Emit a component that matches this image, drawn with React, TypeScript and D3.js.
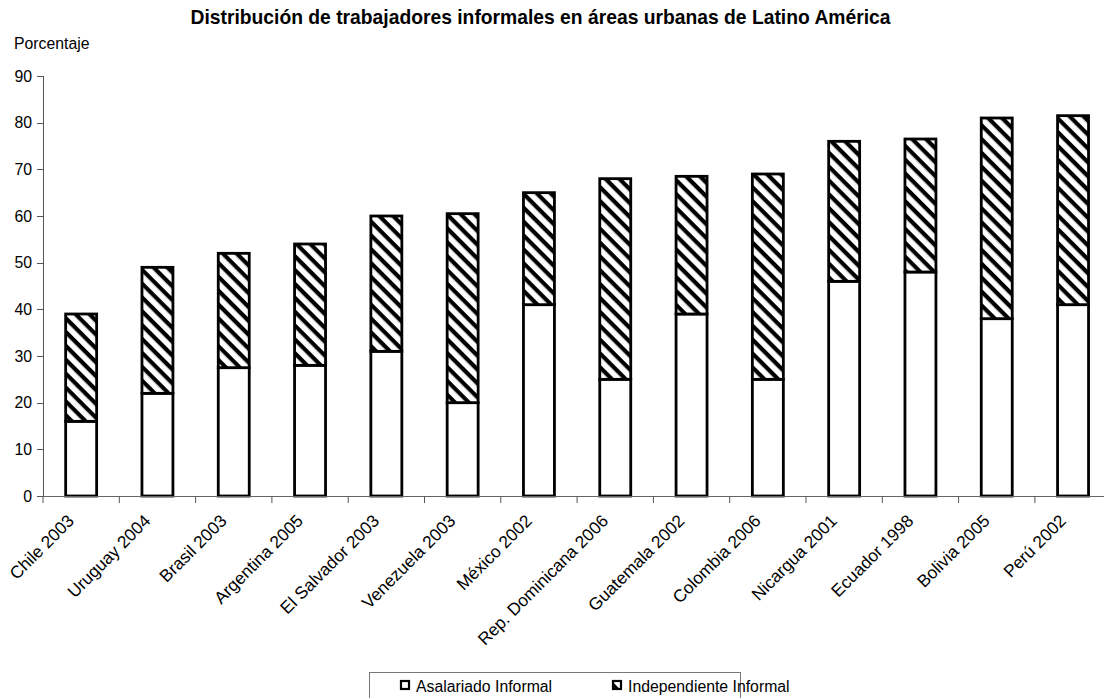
import React from 'react';
import * as d3 from 'd3';

// Categories (country and survey year)
const categories = [
  'Chile 2003',
  'Uruguay 2004',
  'Brasil 2003',
  'Argentina 2005',
  'El Salvador 2003',
  'Venezuela 2003',
  'México 2002',
  'Rep. Dominicana 2006',
  'Guatemala 2002',
  'Colombia 2006',
  'Nicargua 2001',
  'Ecuador 1998',
  'Bolivia 2005',
  'Perú 2002',
];

// Percentage of informal workers by type
const asalariadoInformal = [16, 22, 27.5, 28, 31, 20, 41, 25, 39, 25, 46, 48, 38, 41];
const independienteInformal = [23, 27, 24.5, 26, 29, 40.5, 24, 43, 29.5, 44, 30, 28.5, 43, 40.5];

const seriesNames = ['Asalariado Informal', 'Independiente Informal'];
const yTicks = [0, 10, 20, 30, 40, 50, 60, 70, 80, 90];

const title = 'Distribución de trabajadores informales en áreas urbanas de Latino América';
const yTitle = 'Porcentaje';

const W = 1104;
const H = 698;
const FONT = '"Liberation Sans", Arial, sans-serif';

export default function App() {
  const rows = categories.map((c, i) => ({
    cat: c,
    asal: asalariadoInformal[i],
    indep: independienteInformal[i],
  }));
  const stack = d3.stack<any>().keys(['asal', 'indep'])(rows);

  const x = d3
    .scaleBand<string>()
    .domain(categories)
    .range([43, 43 + 14 * 76.3])
    .paddingInner(0.594)
    .paddingOuter(0.297);
  const y = d3.scaleLinear().domain([0, 90]).range([496, 76]);

  const step = x.step();
  const start = x.range()[0];
  const boundaries = d3.range(categories.length + 1).map((i) => start + i * step);

  const fills = ['#ffffff', 'url(#hatch)'];

  return (
    <svg
      width={W}
      height={H}
      style={{ position: 'absolute', left: 0, top: 0, background: '#fff' }}
      fontFamily={FONT}
    >
      <defs>
        <pattern
          id="hatch"
          patternUnits="userSpaceOnUse"
          width={9.8}
          height={9.8}
          patternTransform="rotate(45)"
        >
          <rect x={0} y={0} width={9.8} height={9.8} fill="#fff" />
          <rect x={0} y={0} width={9.8} height={4.2} fill="#000" />
        </pattern>
      </defs>

      {/* Title */}
      <text x={540.5} y={24} textAnchor="middle" fontSize={19.3} fontWeight="bold" fill="#000">
        {title}
      </text>
      <text x={14} y={49} fontSize={15.8} fill="#000">
        {yTitle}
      </text>

      {/* Y axis */}
      <line x1={43.5} x2={43.5} y1={y(90)} y2={y(0)} stroke="#555" strokeWidth={1} />
      {yTicks.map((t) => (
        <g key={t}>
          <line x1={37} x2={43.5} y1={Math.round(y(t)) + 0.5} y2={Math.round(y(t)) + 0.5} stroke="#555" />
          <text x={32} y={y(t) + 5.5} textAnchor="end" fontSize={15.8} fill="#000">
            {t}
          </text>
        </g>
      ))}

      {/* Bars */}
      {stack.map((s, si) =>
        s.map((d, i) => (
          <rect
            key={`${si}-${i}`}
            x={x(categories[i])}
            y={y(d[1])}
            width={x.bandwidth()}
            height={y(d[0]) - y(d[1])}
            fill={fills[si]}
            stroke="#000"
            strokeWidth={2.8}
          />
        ))
      )}

      {/* X axis */}
      <line x1={43} x2={W} y1={496.5} y2={496.5} stroke="#666" strokeWidth={1} />
      {boundaries.map((b, i) => (
        <line key={i} x1={b} x2={b} y1={496} y2={503} stroke="#555" />
      ))}
      {categories.map((c) => {
        const cx = (x(c) as number) + x.bandwidth() / 2 - 6;
        return (
          <text
            key={c}
            transform={`translate(${cx},522) rotate(-45)`}
            textAnchor="end"
            fontSize={17.3}
            fill="#000"
          >
            {c}
          </text>
        );
      })}

      {/* Legend */}
      <rect x={369.5} y={672.5} width={371} height={40} fill="#fff" stroke="#777" strokeWidth={1} />
      {seriesNames.map((n, i) => {
        const lx = i === 0 ? 400 : 612;
        return (
          <g key={n}>
            <rect x={lx + 1} y={681} width={8} height={8} fill={fills[i]} stroke="#000" strokeWidth={2.2} />
            <text x={lx + 16} y={692} fontSize={15.8} fill="#000">
              {n}
            </text>
          </g>
        );
      })}
    </svg>
  );
}
